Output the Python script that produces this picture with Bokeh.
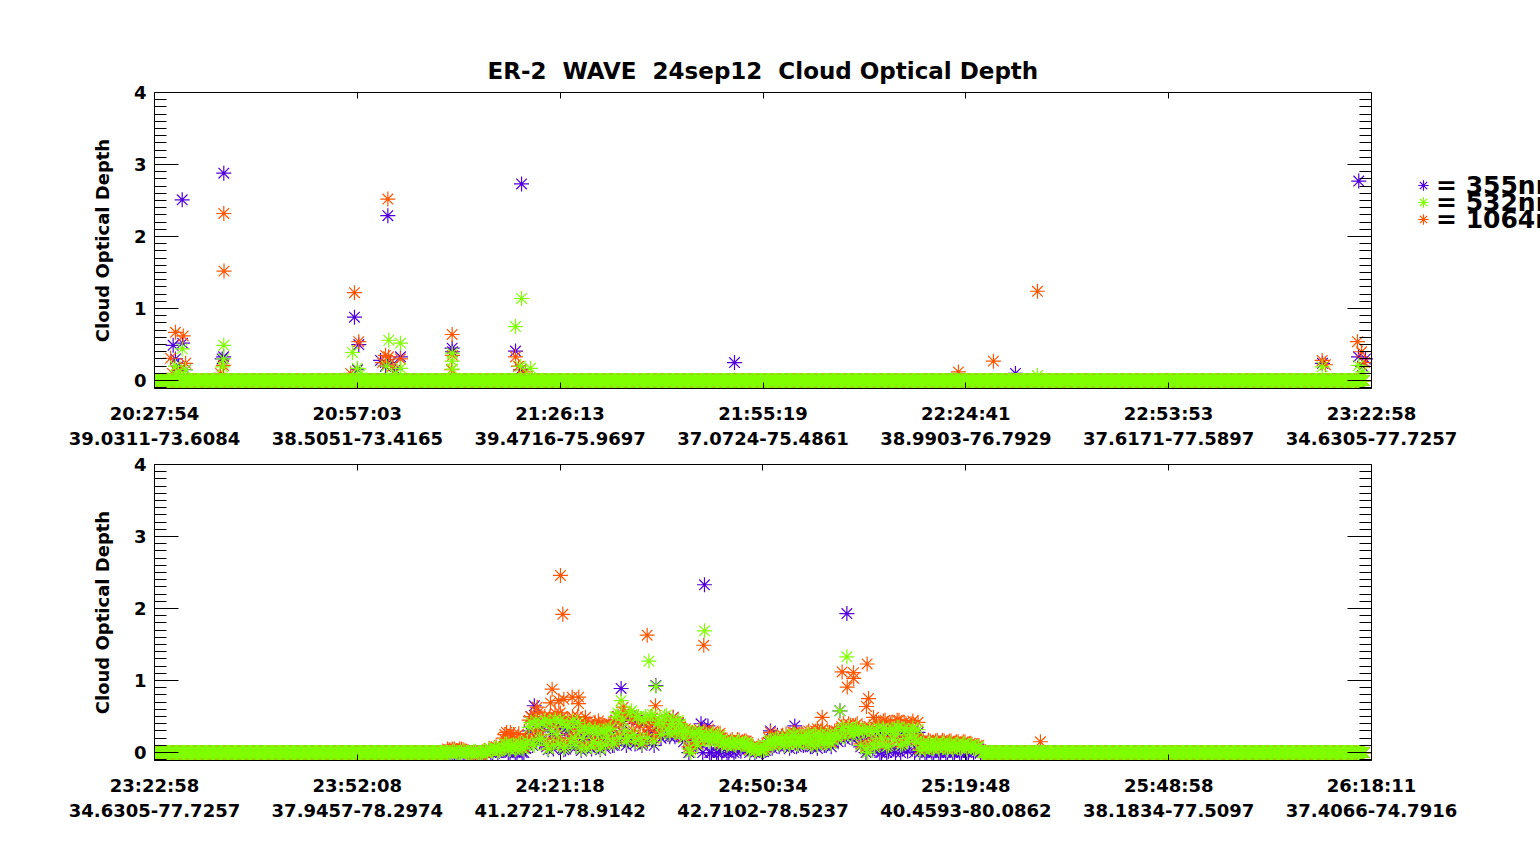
import numpy as np
from bokeh.plotting import figure
from bokeh.models import Range1d, LinearAxis, FixedTicker, ColumnDataSource, Legend, LegendItem
from bokeh.layouts import column
from bokeh.embed import file_html
from bokeh.resources import INLINE

FONT = "DejaVu Sans"

# double spaces kept with no-break spaces (SVG collapses plain runs of spaces)
title_text = "ER-2 \u00a0WAVE \u00a024sep12 \u00a0Cloud Optical Depth"
y_label = "Cloud Optical Depth"
wave_labels = ["= 355nm", "= 532nm", "= 1064nm"]
wave_colors = ["#5000DC", "#80FF00", "#FF5500"]   # 355, 532, 1064

y_ticks = [0, 1, 2, 3, 4]

# ---- panel 1 : 20:27:54 -> 23:22:58 (seconds after 20:27:54)
top_span_s = 10504
top_tick_labels = ["20:27:54\n39.0311-73.6084", "20:57:03\n38.5051-73.4165",
                   "21:26:13\n39.4716-75.9697", "21:55:19\n37.0724-75.4861",
                   "22:24:41\n38.9903-76.7929", "22:53:53\n37.6171-77.5897",
                   "23:22:58\n34.6305-77.7257"]
# ---- panel 2 : 23:22:58 -> 26:18:11 (seconds after 23:22:58)
bot_span_s = 10513
bot_tick_labels = ["23:22:58\n34.6305-77.7257", "23:52:08\n37.9457-78.2974",
                   "24:21:18\n41.2721-78.9142", "24:50:34\n42.7102-78.5237",
                   "25:19:48\n40.4593-80.0862", "25:48:58\n38.1834-77.5097",
                   "26:18:11\n37.4066-74.7916"]

# clear-sky stretches (optical depth 0), sampled every 10 s
sample_step_s = 10
top_clear = [(0, 10440)]
bot_clear = [(0, 2530), (7160, 10450)]

# ---- panel 1 cloudy samples
top_355_t = [239, 161, 242, 181, 207, 268, 598, 596, 584, 1726, 1763, 1752, 2014, 1951,
             1994, 2037, 2123, 2080, 2569, 2572, 3116, 3168, 3159, 5006, 7431, 10081,
             10394, 10392, 10452, 10426]
top_355_v = [2.51, 0.49, 0.52, 0.30, 0.20, 0.15, 2.88, 0.33, 0.30, 0.88, 0.50, 0.15, 2.29, 0.28,
             0.20, 0.25, 0.33, 0.15, 0.45, 0.40, 0.41, 2.73, 0.15, 0.25, 0.10, 0.24,
             2.77, 0.33, 0.30, 0.20]
top_1064_t = [181, 248, 138, 268, 224, 155, 598, 600, 596, 570, 1726, 1763, 1692, 2014, 1994,
              2020, 1968, 2054, 2123, 2569, 2572, 2563, 3116, 3142, 3202, 6939, 7241, 7621,
              10078, 10107, 10383, 10418, 10444]
top_1064_v = [0.67, 0.62, 0.31, 0.24, 0.15, 0.10, 2.32, 1.52, 0.21, 0.10, 1.22, 0.54, 0.10, 2.52, 0.35,
              0.33, 0.25, 0.20, 0.30, 0.64, 0.35, 0.15, 0.33, 0.20, 0.12, 0.12, 0.27, 1.24,
              0.28, 0.22, 0.54, 0.40, 0.25]
top_532_t = [239, 181, 268, 207, 598, 596, 587, 1709, 1750, 1778, 2022, 2002, 2123, 2125, 2080,
             2569, 2570, 2572, 3116, 3168, 3245, 3159, 7621, 10078, 10392, 10426]
top_532_v = [0.44, 0.20, 0.15, 0.12, 0.49, 0.30, 0.19, 0.39, 0.17, 0.10, 0.56, 0.20, 0.52, 0.17, 0.10,
             0.38, 0.27, 0.16, 0.75, 1.14, 0.17, 0.20, 0.07, 0.19, 0.21, 0.12]

# ---- panel 2 cloud band: samples every 30 s from 2531 s (set a) and from 2546 s (set b)
bot_band_start_s = 2531
bot_band_step_s = 30
bot_355_band = [0, 0, 0, 0, 0, 0, 0, 0, 0, 0, 0, 0,
                0.03, 0.0, 0.04, 0.02,
                0.05, 0.1, 0.0, 0.08, 0.0, 0.1, 0.0,
                0.1, 0.5, 0.65, 0.3, 0.15, 0.4,
                0.04, 0.25, 0.4, 0.1, 0.35, 0.05, 0.3, 0.4, 0.08, 0.25, 0.15,
                0.05, 0.28, 0.12, 0.25, 0.04, 0.26, 0.15, 0.3,
                0.1, 0.5, 0.89, 0.25, 0.15, 0.5, 0.12, 0.45,
                0.1, 0.45, 0.25, 0.3, 0.93, 0.4, 0.35, 0.45,
                0.22, 0.49, 0.25, 0.35,
                0.15, 0.28, 0.05, 0.25, 0.08,
                0.4, 2.33, 0.37, 0.0, 0.2, 0.0,
                0.0, 0.12, 0.0, 0.13, 0.02, 0.12, 0.08, 0.1,
                0.0, 0.05, 0.02, 0.04, 0.01,
                0.08, 0.3, 0.1, 0.24, 0.12,
                0.08, 0.18, 0.1, 0.37, 0.1, 0.2, 0.12, 0.22,
                0.08, 0.22, 0.12, 0.2, 0.1, 0.2, 0.15, 0.24,
                0.58, 0.3, 1.93, 0.28, 0.25, 0.3,
                0.08, 0.26, 0.05, 0.25,
                0.05, 0.3, 0.0, 0.28, 0.02, 0.3, 0.0, 0.3, 0.05, 0.28, 0.15, 0.3, 0.1,
                0.0, 0.1, 0.0, 0.1, 0.0, 0.11, 0.0, 0.1, 0.0, 0.12, 0.0, 0.1, 0.0, 0.1, 0.0, 0.08, 0.02, 0.05,
                0]
bot_355_band_b = [0, 0, 0, 0, 0, 0, 0, 0, 0, 0, 0, 0,
                  0.0, 0.04, 0.0, 0.03,
                  0.08, 0.0, 0.09, 0.0, 0.1, 0.0, 0.06,
                  0.3, 0.1, 0.45, 0.15, 0.35, 0.08,
                  0.35, 0.05, 0.2, 0.38, 0.04, 0.3, 0.1, 0.15, 0.35, 0.03, 0.3,
                  0.25, 0.05, 0.28, 0.08, 0.25, 0.06, 0.28, 0.1,
                  0.45, 0.15, 0.4, 0.1, 0.5, 0.2, 0.45, 0.15,
                  0.4, 0.15, 0.45, 0.1, 0.35, 0.2, 0.45, 0.25,
                  0.35, 0.22, 0.4, 0.25,
                  0.25, 0.0, 0.2, 0.1, 0.25,
                  0.0, 0.22, 0.0, 0.2, 0.0, 0.18,
                  0.12, 0.0, 0.11, 0.0, 0.12, 0.02, 0.1, 0.05,
                  0.04, 0.0, 0.05, 0.01, 0.03,
                  0.14, 0.06, 0.16, 0.08, 0.18,
                  0.18, 0.06, 0.2, 0.08, 0.16, 0.1, 0.2, 0.08,
                  0.2, 0.06, 0.22, 0.1, 0.2, 0.08, 0.2, 0.15,
                  0.28, 0.18, 0.3, 0.2, 0.28, 0.22,
                  0.25, 0.0, 0.28, 0.05,
                  0.26, 0.0, 0.3, 0.0, 0.26, 0.05, 0.3, 0.0, 0.28, 0.02, 0.26, 0.0, 0.28,
                  0.1, 0.0, 0.11, 0.0, 0.1, 0.0, 0.12, 0.0, 0.1, 0.0, 0.1, 0.0, 0.1, 0.0, 0.08, 0.0, 0.06, 0.0,
                  0]
bot_532_band = [0, 0, 0.02, 0, 0, 0.01, 0, 0, 0.02, 0, 0, 0.03,
                0.05, 0.02, 0.06, 0.03,
                0.08, 0.12, 0.04, 0.11, 0.06, 0.13, 0.05,
                0.15, 0.42, 0.1, 0.38, 0.2, 0.45,
                0.05, 0.3, 0.46, 0.12, 0.4, 0.08, 0.35, 0.44, 0.1, 0.3, 0.2,
                0.06, 0.32, 0.15, 0.28, 0.05, 0.3, 0.2, 0.34,
                0.12, 0.55, 0.72, 0.3, 0.2, 0.58, 0.15, 0.5,
                0.12, 0.5, 1.27, 0.53, 0.92, 0.45, 0.4, 0.52,
                0.26, 0.45, 0.3, 0.4,
                0.2, 0.31, 0.0, 0.28, 0.1,
                0.26, 1.69, 0.18, 0.24, 0.15, 0.22,
                0.1, 0.14, 0.12, 0.15, 0.1, 0.14, 0.12, 0.13,
                0.02, 0.07, 0.04, 0.06, 0.03,
                0.1, 0.17, 0.12, 0.2, 0.15,
                0.1, 0.2, 0.14, 0.25, 0.12, 0.22, 0.16, 0.25,
                0.1, 0.25, 0.15, 0.22, 0.12, 0.22, 0.18, 0.26,
                0.58, 0.35, 1.33, 0.3, 0.28, 0.35,
                0.1, 0.3, 0.0, 0.28,
                0.07, 0.35, 0.2, 0.3, 0.1, 0.33, 0.25, 0.35, 0.12, 0.3, 0.2, 0.34, 0.15,
                0.03, 0.13, 0.08, 0.12, 0.05, 0.13, 0.1, 0.12, 0.04, 0.13, 0.08, 0.12, 0.06, 0.12, 0.09, 0.1, 0.05, 0.08,
                0]
bot_532_band_b = [0, 0.01, 0, 0, 0.02, 0, 0, 0.01, 0, 0, 0.02, 0,
                  0.03, 0.06, 0.02, 0.05,
                  0.12, 0.05, 0.1, 0.04, 0.12, 0.06, 0.1,
                  0.35, 0.12, 0.44, 0.18, 0.4, 0.1,
                  0.42, 0.1, 0.25, 0.45, 0.06, 0.38, 0.15, 0.2, 0.42, 0.05, 0.35,
                  0.3, 0.08, 0.33, 0.12, 0.3, 0.1, 0.32, 0.15,
                  0.5, 0.2, 0.45, 0.15, 0.55, 0.25, 0.5, 0.2,
                  0.45, 0.2, 0.5, 0.15, 0.4, 0.25, 0.5, 0.3,
                  0.4, 0.28, 0.45, 0.3,
                  0.3, 0.05, 0.25, 0.15, 0.3,
                  0.2, 0.25, 0.15, 0.26, 0.18, 0.24,
                  0.14, 0.1, 0.13, 0.11, 0.15, 0.1, 0.13, 0.12,
                  0.06, 0.02, 0.07, 0.03, 0.05,
                  0.16, 0.1, 0.18, 0.12, 0.2,
                  0.22, 0.1, 0.25, 0.12, 0.2, 0.14, 0.24, 0.12,
                  0.24, 0.1, 0.26, 0.14, 0.25, 0.12, 0.24, 0.2,
                  0.32, 0.22, 0.35, 0.25, 0.33, 0.28,
                  0.3, 0.05, 0.32, 0.12,
                  0.3, 0.12, 0.34, 0.08, 0.3, 0.18, 0.35, 0.1, 0.33, 0.15, 0.3, 0.2, 0.32,
                  0.12, 0.04, 0.13, 0.06, 0.12, 0.05, 0.13, 0.07, 0.12, 0.04, 0.11, 0.06, 0.12, 0.05, 0.1, 0.06, 0.08, 0.03,
                  0]
bot_1064_band = [0.05, 0.04, 0.05, 0.03, 0.05, 0.02, 0, 0, 0, 0, 0.01, 0,
                 0.06, 0.03, 0.08, 0.04,
                 0.2, 0.28, 0.1, 0.25, 0.12, 0.2, 0.08,
                 0.2, 0.5, 0.3, 0.55, 0.25, 0.5,
                 0.1, 0.45, 0.55, 0.2, 0.5, 0.15, 0.45, 0.5, 0.2, 0.4, 0.3,
                 0.1, 0.4, 0.2, 0.35, 0.1, 0.38, 0.25, 0.4,
                 0.15, 0.5, 0.4, 0.55, 0.25, 0.45, 0.2, 0.4,
                 0.15, 0.45, 0.35, 0.48, 0.25, 0.4, 0.38, 0.45,
                 0.3, 0.4, 0.28, 0.35,
                 0.22, 0.3, 0.05, 0.27, 0.12,
                 0.18, 0.3, 0.2, 0.28, 0.17, 0.25,
                 0.13, 0.17, 0.14, 0.18, 0.12, 0.17, 0.14, 0.16,
                 0.04, 0.08, 0.05, 0.07, 0.04,
                 0.12, 0.28, 0.14, 0.22, 0.16,
                 0.12, 0.22, 0.15, 0.28, 0.14, 0.26, 0.18, 0.3,
                 0.12, 0.3, 0.18, 0.33, 0.15, 0.28, 0.2, 0.3,
                 0.25, 0.4, 0.3, 0.38, 0.3, 0.4,
                 0.12, 0.33, 0.1, 0.3,
                 0.1, 0.4, 0.22, 0.45, 0.15, 0.42, 0.3, 0.45, 0.15, 0.4, 0.25, 0.44, 0.2,
                 0.05, 0.17, 0.1, 0.16, 0.07, 0.17, 0.12, 0.16, 0.06, 0.16, 0.1, 0.15, 0.08, 0.15, 0.1, 0.12, 0.06, 0.1,
                 0]
bot_1064_band_b = [0.04, 0.05, 0.03, 0.05, 0.04, 0.01, 0, 0, 0, 0, 0, 0,
                   0.04, 0.07, 0.03, 0.06,
                   0.25, 0.1, 0.22, 0.08, 0.26, 0.1, 0.2,
                   0.45, 0.2, 0.5, 0.25, 0.48, 0.15,
                   0.5, 0.15, 0.35, 0.55, 0.1, 0.45, 0.2, 0.3, 0.5, 0.1, 0.42,
                   0.38, 0.12, 0.42, 0.15, 0.36, 0.12, 0.4, 0.2,
                   0.45, 0.25, 0.5, 0.2, 0.52, 0.3, 0.48, 0.25,
                   0.42, 0.25, 0.46, 0.2, 0.38, 0.3, 0.45, 0.35,
                   0.38, 0.3, 0.42, 0.32,
                   0.33, 0.08, 0.28, 0.18, 0.32,
                   0.25, 0.28, 0.2, 0.3, 0.2, 0.27,
                   0.17, 0.12, 0.16, 0.13, 0.18, 0.12, 0.16, 0.14,
                   0.08, 0.03, 0.09, 0.04, 0.07,
                   0.2, 0.12, 0.22, 0.14, 0.24,
                   0.26, 0.12, 0.28, 0.14, 0.24, 0.16, 0.28, 0.14,
                   0.28, 0.12, 0.3, 0.16, 0.28, 0.14, 0.3, 0.24,
                   0.36, 0.26, 0.4, 0.3, 0.38, 0.32,
                   0.34, 0.08, 0.36, 0.15,
                   0.42, 0.15, 0.44, 0.12, 0.4, 0.22, 0.45, 0.14, 0.42, 0.18, 0.4, 0.24, 0.42,
                   0.16, 0.06, 0.17, 0.08, 0.16, 0.07, 0.17, 0.09, 0.16, 0.06, 0.15, 0.08, 0.15, 0.07, 0.13, 0.08, 0.1, 0.04,
                   0]
# extra 1064 nm samples (isolated cloud returns)
bot_1064_extra_t = [3435, 3492, 3536, 3608, 3665, 3663, 3421, 3403, 3835, 3867, 3954, 3723, 3306,
                    3075, 3507, 3527, 4256, 4745, 4581, 4483, 4328, 4049, 5940, 6038, 5984, 6040,
                    6156, 6168, 6150, 6211, 5768, 5727, 7653]
bot_1064_extra_v = [0.88, 0.72, 0.74, 0.77, 0.77, 0.68, 0.69, 0.42, 0.44, 0.38, 0.35, 0.49, 0.63,
                    0.28, 2.46, 1.92, 1.63, 1.49, 0.29, 0.49, 0.65, 0.63, 1.12, 1.11, 0.91, 1.03,
                    1.23, 0.75, 0.64, 0.49, 0.49, 0.33, 0.15]

# ---- layout (pixels)
FIG_W = 1540
FRAME_L = 154          # left edge of the plotting box
BOX_W = 1217           # width of the drawn data box
FRAME_W = FIG_W - FRAME_L   # frame runs to the page edge so the legend can sit right of the box


def clear_samples(segments):
    t = np.concatenate([np.arange(a, b + 1, sample_step_s) for a, b in segments])
    return t, np.zeros(len(t))


def band_times(vals, offset=0):
    return bot_band_start_s + offset + bot_band_step_s * np.arange(len(vals))


def style_axis(ax, labels_visible, major_in, minor_in):
    ax.axis_line_color = "black"
    ax.major_tick_line_color = "black"
    ax.minor_tick_line_color = "black"
    ax.major_tick_in = major_in
    ax.major_tick_out = 0
    ax.minor_tick_in = minor_in
    ax.minor_tick_out = 0
    if labels_visible:
        ax.major_label_text_font = FONT
        ax.major_label_text_font_style = "bold"
        ax.major_label_text_font_size = "18px"
        ax.major_label_text_color = "black"
    else:
        ax.major_label_text_font_size = "0px"
        ax.major_label_text_color = None
        ax.major_label_standoff = 0


def make_panel(span, tick_labels, series, height, mbt, mbb):
    x_end = span * FRAME_W / BOX_W
    p = figure(width=FIG_W, height=height, x_range=Range1d(0, x_end),
               y_range=Range1d(-0.11, 4.0), output_backend="svg",
               toolbar_location=None, min_border_left=FRAME_L, min_border_right=0,
               min_border_top=mbt, min_border_bottom=mbb)
    p.xgrid.visible = False
    p.ygrid.visible = False
    p.outline_line_color = None
    p.background_fill_color = "white"
    p.border_fill_color = "white"

    xt = [round(span * k / 6) for k in range(7)]
    xticker = FixedTicker(ticks=xt, minor_ticks=[])
    minor_y = [round(k * 0.1, 1) for k in range(-1, 40) if k % 10 != 0]
    yticker = FixedTicker(ticks=y_ticks, minor_ticks=minor_y)

    xa = p.xaxis[0]
    xa.ticker = xticker
    xa.bounds = (0, span)
    xa.major_label_overrides = {t: lab for t, lab in zip(xt, tick_labels)}
    style_axis(xa, True, 6, 0)
    xa.major_label_standoff = 14

    ya = p.yaxis[0]
    ya.ticker = yticker
    style_axis(ya, True, 24, 12)
    ya.major_label_standoff = 8
    ya.axis_label = y_label
    ya.axis_label_text_font = FONT
    ya.axis_label_text_font_style = "bold"
    ya.axis_label_text_font_size = "18px"
    ya.axis_label_text_color = "black"
    ya.axis_label_standoff = 18

    ra = LinearAxis(ticker=yticker, fixed_location=span)
    style_axis(ra, False, 24, 12)
    p.add_layout(ra, "right")
    ta = LinearAxis(ticker=xticker, bounds=(0, span))
    style_axis(ta, False, 6, 0)
    p.add_layout(ta, "above")

    rends = []
    for t, v, col in series:
        src = ColumnDataSource(data=dict(t=t, v=v))
        rends.append(p.scatter("t", "v", source=src, marker="asterisk", size=15,
                               line_color=col, line_width=1.2))
    return p, rends


c355, c532, c1064 = wave_colors

# ---- panel 1 series (draw order 355, 1064, 532: green lies on top)
tc, vc = clear_samples(top_clear)
top_series = [
    (np.concatenate([tc, top_355_t]), np.concatenate([vc, top_355_v]), c355),
    (np.concatenate([tc, top_1064_t]), np.concatenate([vc, top_1064_v]), c1064),
    (np.concatenate([tc, top_532_t]), np.concatenate([vc, top_532_v]), c532),
]
# ---- panel 2 series
bc, bv = clear_samples(bot_clear)
bot_series = [
    (np.concatenate([bc, band_times(bot_355_band), band_times(bot_355_band_b, 15)]),
     np.concatenate([bv, bot_355_band, bot_355_band_b]), c355),
    (np.concatenate([bc, band_times(bot_1064_band), band_times(bot_1064_band_b, 15), bot_1064_extra_t]),
     np.concatenate([bv, bot_1064_band, bot_1064_band_b, bot_1064_extra_v]), c1064),
    (np.concatenate([bc, band_times(bot_532_band), band_times(bot_532_band_b, 15)]),
     np.concatenate([bv, bot_532_band, bot_532_band_b]), c532),
]

p1, (r355, r1064, r532) = make_panel(top_span_s, top_tick_labels, top_series, 454, 92, 66)
p1.title.text = title_text
p1.title.align = "left"
p1.title.offset = 333
p1.title.text_font = FONT
p1.title.text_font_style = "bold"
p1.title.text_font_size = "23px"
p1.title.text_color = "black"
p1.title.standoff = 17

for lab, r, ly in zip(wave_labels, [r355, r532, r1064], [188, 171, 154]):
    lg = Legend(items=[LegendItem(label=lab, renderers=[r])], location=(1256, ly),
                padding=0, margin=0, spacing=0, glyph_width=26, glyph_height=30,
                label_height=30, label_standoff=0, label_text_font=FONT,
                label_text_font_style="bold", label_text_font_size="25px",
                label_text_color="black", background_fill_alpha=0, border_line_alpha=0)
    p1.add_layout(lg)

p2, _ = make_panel(bot_span_s, bot_tick_labels, bot_series, 380, 10, 74)

layout = column(p1, p2, spacing=0)
open("out.html", "w").write(file_html(layout, INLINE))
